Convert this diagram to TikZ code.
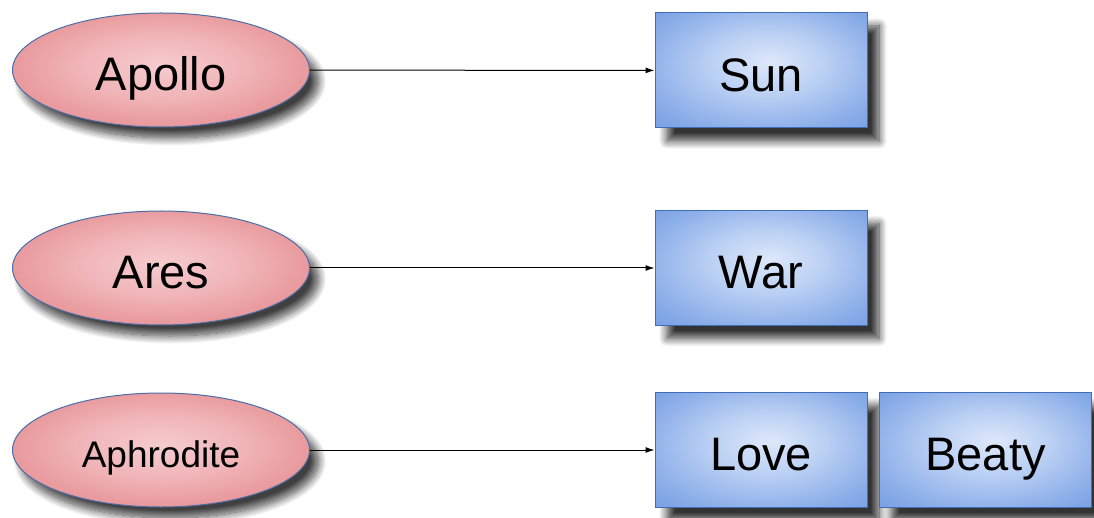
\documentclass[tikz,border=0pt]{standalone}
\usepackage{fontspec}
\setmainfont{Liberation Sans}
\usetikzlibrary{shapes.geometric,shadows.blur,arrows.meta}
\definecolor{godedge}{HTML}{4A6EA8}
\definecolor{godin}{HTML}{F6CCCF}
\definecolor{godmida}{HTML}{F0B4B7}
\definecolor{godmid}{HTML}{E79598}
\definecolor{godout}{HTML}{DE6F72}
\definecolor{boxin}{HTML}{DEE8FA}
\definecolor{boxmida}{HTML}{B9CFF3}
\definecolor{boxmid}{HTML}{90B1EA}
\definecolor{boxout}{HTML}{6F99E0}
\definecolor{boxedge}{HTML}{3F6DB8}
\pgfdeclareradialshading{godshade}{\pgfpoint{0bp}{2bp}}{color(0bp)=(godin); color(14bp)=(godmida); color(27bp)=(godmid); color(38bp)=(godout); color(50bp)=(godout)}
\pgfdeclareradialshading{boxshade}{\pgfpoint{2bp}{4bp}}{color(0bp)=(boxin); color(14bp)=(boxmida); color(27bp)=(boxmid); color(40bp)=(boxout); color(50bp)=(boxout)}
\tikzset{
  godnode/.style={ellipse, draw=godedge, line width=1pt, inner sep=0pt,
    minimum width=297pt, minimum height=114pt,
    shading=godshade,
    blur shadow={shadow xshift=9pt, shadow yshift=-11pt, shadow blur radius=8pt, shadow blur steps=14, shadow opacity=75},
    font=\fontsize{47}{50}\selectfont, text height=41.6pt, text depth=0pt},
  domainbox/.style={rectangle, draw=boxedge, line width=1pt, inner sep=0pt,
    minimum width=212pt, minimum height=115pt,
    shading=boxshade,
    blur shadow={shadow xshift=12pt, shadow yshift=-13pt, shadow blur radius=8pt, shadow blur steps=14, shadow opacity=80},
    font=\fontsize{47}{50}\selectfont, text height=41.6pt, text depth=0pt},
  smalltext/.style={font=\fontsize{37}{40}\selectfont, text height=34.5pt, text depth=0pt},
  linkarrow/.style={line width=1pt, -{Latex[length=9pt,width=6pt]}}
}
\begin{document}
\begin{tikzpicture}[x=1pt,y=-1pt]
\useasboundingbox (0,0) rectangle (1094,518);
\node[godnode] (apollo) at (161,70) {Apollo};
\node[godnode] (ares) at (161,268) {Ares};
\node[godnode, smalltext] (aphrodite) at (161,450) {Aphrodite};
\node[domainbox] (sun) at (761,70.5) {Sun};
\node[domainbox] (war) at (761,268) {War};
\node[domainbox] (love) at (761,450) {Love};
\node[domainbox] (beaty) at (985.5,450) {Beaty};
\draw[linkarrow] (apollo) -- (sun);
\draw[linkarrow] (ares) -- (war);
\draw[linkarrow] (aphrodite) -- (love);
\end{tikzpicture}
\end{document}
